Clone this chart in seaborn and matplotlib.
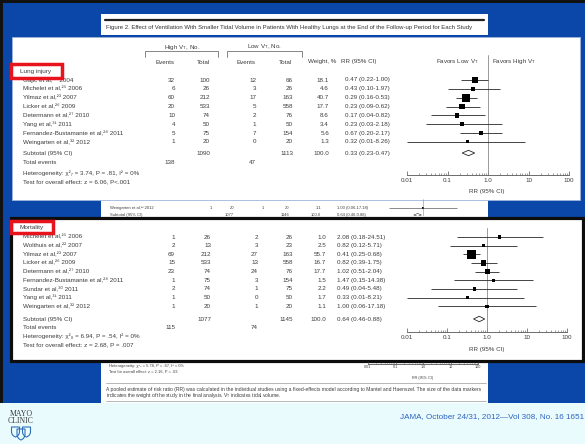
import numpy as np
import matplotlib
matplotlib.use("Agg")
import matplotlib.pyplot as plt
from matplotlib.patches import Rectangle, Polygon, PathPatch
from matplotlib.path import Path
import matplotlib.ticker as mticker
import seaborn as sns

sns.set_style("white")
plt.rcParams["font.family"] = ["Liberation Sans", "DejaVu Sans"]
plt.rcParams["mathtext.fontset"] = "custom"
plt.rcParams["mathtext.rm"] = "Liberation Sans"
plt.rcParams["mathtext.it"] = "Liberation Sans:italic"
plt.rcParams["mathtext.bf"] = "Liberation Sans:bold"

# ---------------- data: lung injury ----------------
li_names = ["Gajic", "Michelet", "Yilmaz", "Licker", "Determann", "Yang",
            "Fernandez-Bustamante", "Weingarten"]
li_refs = [24, 25, 23, 26, 27, 31, 28, 32]
li_years = [2004, 2006, 2007, 2009, 2010, 2011, 2011, 2012]
li_high_events = [32, 6, 60, 20, 10, 4, 5, 1]
li_high_total = [100, 26, 212, 533, 74, 50, 75, 20]
li_low_events = [12, 3, 17, 5, 2, 1, 7, 0]
li_low_total = [66, 26, 163, 558, 76, 50, 154, 20]
li_weight = [18.1, 4.6, 40.7, 17.7, 8.6, 3.4, 5.6, 1.3]
li_rr = [0.47, 0.43, 0.29, 0.23, 0.17, 0.23, 0.67, 0.32]
li_lo = [0.22, 0.10, 0.16, 0.09, 0.04, 0.03, 0.20, 0.01]
li_hi = [1.00, 1.97, 0.53, 0.62, 0.82, 2.18, 2.17, 8.26]
li_sub_totals = [1090, 1113]
li_sub_rr = [0.33, 0.23, 0.47]
li_total_events = [138, 47]
li_het = "Heterogeneity: \u03c7\u00b2\u2087 = 3.74, P = .81, I\u00b2 = 0%"
li_test = "Test for overall effect: z = 6.06, P<.001"

# ---------------- data: mortality ----------------
mo_names = ["Michelet", "Wolthuis", "Yilmaz", "Licker", "Determann",
            "Fernandez-Bustamante", "Sundar", "Yang", "Weingarten"]
mo_refs = [25, 22, 23, 26, 27, 28, 30, 31, 32]
mo_years = [2006, 2007, 2007, 2009, 2010, 2011, 2011, 2011, 2012]
mo_high_events = [1, 2, 69, 15, 23, 1, 2, 1, 1]
mo_high_total = [26, 13, 212, 533, 74, 75, 74, 50, 20]
mo_low_events = [2, 3, 27, 13, 24, 3, 1, 0, 1]
mo_low_total = [26, 23, 163, 558, 76, 154, 75, 50, 20]
mo_weight = [1.0, 2.5, 55.7, 16.7, 17.7, 1.5, 2.2, 1.7, 1.1]
mo_rr = [2.08, 0.82, 0.41, 0.82, 1.02, 1.47, 0.49, 0.33, 1.00]
mo_lo = [0.18, 0.12, 0.25, 0.39, 0.51, 0.15, 0.04, 0.01, 0.06]
mo_hi = [24.51, 5.71, 0.68, 1.75, 2.04, 14.38, 5.48, 8.21, 17.18]
mo_sub_totals = [1077, 1145]
mo_sub_rr = [0.64, 0.46, 0.88]
mo_total_events = [115, 74]
mo_het = "Heterogeneity: \u03c7\u00b2\u2088 = 6.94, P = .54, I\u00b2 = 0%"
mo_test = "Test for overall effect: z = 2.68, P = .007"

# pooled page row visible between the two panels
pg_rr = [1.00]
pg_lo = [0.06]
pg_hi = [17.18]
pg_sub_rr = [0.64, 0.46, 0.88]
pg_het = "Heterogeneity: \u03c7\u00b2\u2088 = 5.78, P = .67, I\u00b2 = 0%"
pg_test = "Test for overall effect: z = 2.16, P = .03"

tick_vals = [0.01, 0.1, 1, 10, 100]
tick_labels = ["0.01", "0.1", "1.0", "10", "100"]

title = ("Figure 2. Effect of Ventilation With Smaller Tidal Volume in Patients "
         "With Healthy Lungs at the End of the Follow-up Period for Each Study")
caption1 = ("A pooled estimate of risk ratio (RR) was calculated in the individual studies "
            "using a fixed-effects model according to Mantel and Haenszel. The size of the data markers")
caption2 = ("indicates the weight of the study in the final analysis. V$_\\mathrm{T}$ "
            "indicates tidal volume.")
footer = "JAMA, October 24/31, 2012\u2014Vol 308, No. 16 1651"

SUP = str.maketrans("0123456789", "\u2070\u00b9\u00b2\u00b3\u2074\u2075\u2076\u2077\u2078\u2079")

# ---------------- styling ----------------
W, H = 585, 444
BLUE = "#0a47a9"
CYAN = "#e9fbfd"
TXT = "#3c3c3c"
RED = "#e8141c"
FS = 4.5

fig = plt.figure(figsize=(W / 100, H / 100), dpi=100)
bg = fig.add_axes([0, 0, 1, 1])
bg.set_xlim(0, W)
bg.set_ylim(H, 0)
bg.axis("off")
bg.set_zorder(0)


def px_axes(x0, y0, x1, y1, z=2):
    a = fig.add_axes([x0 / W, 1 - y1 / H, (x1 - x0) / W, (y1 - y0) / H])
    a.set_zorder(z)
    a.patch.set_alpha(0)
    return a


def rect(x0, y0, x1, y1, **kw):
    bg.add_patch(Rectangle((x0, y0), x1 - x0, y1 - y0, **kw))


def t(x, y, s, size=FS, ha="left", color=TXT, z=5, **kw):
    bg.text(x, y, s, fontsize=size, ha=ha, va="center", color=color, zorder=z, **kw)


# slide background
rect(0, 0, W, 403, fc=BLUE, ec="none", zorder=0)
rect(0, 403, W, H, fc=CYAN, ec="none", zorder=0)
rect(0, 0, W, 3.5, fc="#111111", ec="none", zorder=1)
rect(0, 0, 3, 403, fc="#111111", ec="none", zorder=1)

# journal page strips behind the panels
rect(101, 14, 488, 35.5, fc="white", ec="none", zorder=1)
rect(101, 199, 488, 217, fc="white", ec="none", zorder=1)
rect(101, 361, 488, 403, fc="white", ec="none", zorder=1)
bg.plot([105, 484], [20.5, 20.5], color="#222222", lw=1.6, zorder=2)
t(106, 28, title, size=4.35, color="#333333", z=2)

# glimpse of the page rows between panels
PG = 3.0
t(110, 207.5, "Weingarten et al," + "32".translate(SUP) + " 2012", size=PG, z=2)
for x, s in zip([212, 234, 264, 289, 321], ["1", "20", "1", "20", "1.1"]):
    t(x, 207.5, s, size=PG, ha="right", z=2)
t(337, 207.5, "1.00 (0.06-17.18)", size=PG, z=2)
t(110, 214.5, "Subtotal (95% CI)", size=PG, z=2)
for x, s in zip([234, 289, 321], ["1077", "1146", "100.0"]):
    t(x, 214.5, s, size=PG, ha="right", z=2)
t(337, 214.5, "0.64 (0.46-0.88)", size=PG, z=2)

# page text below the mortality panel
t(109, 366, pg_het, size=2.9, z=2)
t(109, 372, pg_test, size=2.9, z=2)
t(423, 378, "RR (95% CI)", size=2.7, ha="center", z=2)
bg.plot([106, 486], [383, 383], color="#9a9a9a", lw=0.5, zorder=2)
t(106, 389, caption1, size=3.6, z=2)
t(106, 395.5, caption2, size=3.6, z=2)
bg.plot([106, 486], [401, 401], color="#9a9a9a", lw=0.5, zorder=2)

# panel boxes
rect(12, 37, 580, 200, fc="white", ec="#9db4dc", lw=0.6, zorder=3)
rect(10.5, 218, 582.5, 360.5, fc="white", ec="#0d0d0d", lw=2.3, zorder=3)


def study_label(name, ref, year):
    return f"{name} et al,{str(ref).translate(SUP)} {year}"


def table(rows_y, names, refs, years, he, ht, le, lt, wt, rr, lo, hi,
          cols, rr_x):
    c_he, c_ht, c_le, c_lt, c_w = cols
    for i, y in enumerate(rows_y):
        t(23, y, study_label(names[i], refs[i], years[i]))
        t(c_he, y, str(he[i]), ha="right")
        t(c_ht, y, str(ht[i]), ha="right")
        t(c_le, y, str(le[i]), ha="right")
        t(c_lt, y, str(lt[i]), ha="right")
        t(c_w, y, f"{wt[i]:.1f}", ha="right")
        t(rr_x, y, f"{rr[i]:.2f} ({lo[i]:.2f}-{hi[i]:.2f})")


def summary(y_sub, y_tot, y_het, y_test, totals, sub, events, het, test,
            cols, rr_x):
    c_he, c_ht, c_le, c_lt, c_w = cols
    t(23, y_sub, "Subtotal (95% CI)")
    t(c_ht, y_sub, str(totals[0]), ha="right")
    t(c_lt, y_sub, str(totals[1]), ha="right")
    t(c_w, y_sub, "100.0", ha="right")
    t(rr_x, y_sub, f"{sub[0]:.2f} ({sub[1]:.2f}-{sub[2]:.2f})")
    t(23, y_tot, "Total events")
    t(c_he, y_tot, str(events[0]), ha="right")
    t(c_le, y_tot, str(events[1]), ha="right")
    t(23, y_het, het)
    t(23, y_test, test)


def style_log_axis(ax, label_size=FS, pad=2.0, major_len=2.6, minor_len=1.5):
    ax.set_xscale("log")
    ax.set_xlim(0.01, 100)
    for s in ["left", "right", "top"]:
        ax.spines[s].set_visible(False)
    ax.spines["bottom"].set_color("#555555")
    ax.spines["bottom"].set_linewidth(0.6)
    ax.set_yticks([])
    ax.xaxis.set_major_locator(mticker.FixedLocator(tick_vals))
    ax.xaxis.set_major_formatter(mticker.FixedFormatter(tick_labels))
    ax.xaxis.set_minor_locator(mticker.LogLocator(base=10, subs=np.arange(2, 10)))
    ax.xaxis.set_minor_formatter(mticker.NullFormatter())
    ax.tick_params(axis="x", which="major", direction="in", length=major_len,
                   width=0.5, color="#555555", labelsize=label_size,
                   labelcolor=TXT, pad=pad, bottom=True)
    ax.tick_params(axis="x", which="minor", direction="in", length=minor_len,
                   width=0.4, color="#555555", bottom=True)
    ax.set_xlabel("")
    ax.set_ylabel("")
    ax.grid(False)


def forest(ax, rows_y, rr, lo, hi, wt, sub, sub_y, y_top, y_bot):
    style_log_axis(ax)
    ax.axvline(1, color="#8a8a8a", lw=0.6, zorder=1)
    ax.hlines(rows_y, lo, hi, color="#262626", lw=0.6, zorder=2)
    sns.scatterplot(x=rr, y=rows_y, size=wt, sizes=(4, 74), size_norm=(0, 100),
                    marker="s", color="black", linewidth=0, legend=False,
                    ax=ax, zorder=3)
    d = 2.7
    ax.add_patch(Polygon([(sub[1], sub_y), (sub[0], sub_y - d),
                          (sub[2], sub_y), (sub[0], sub_y + d)],
                         closed=True, fc="white", ec="#262626", lw=0.6, zorder=3))
    ax.set_ylim(y_bot, y_top)
    ax.set_xlim(0.01, 100)
    ax.set_xlabel("")
    ax.set_ylabel("")


# ---------------- lung injury panel ----------------
li_cols = [175, 210, 256, 293, 329]
li_rows = 80 + 8.85 * np.arange(len(li_names))
t(182, 47, r"High V$_\mathrm{T}$, No.", ha="center")
t(264, 47, r"Low V$_\mathrm{T}$, No.", ha="center")
for x0, x1 in [(145, 218), (227, 302)]:
    bg.plot([x0, x0, x1, x1], [57, 51.5, 51.5, 57], color="#555555", lw=0.5, zorder=5)
for x, s in zip([165, 203, 246, 285], ["Events", "Total", "Events", "Total"]):
    t(x, 62, s, ha="center")
t(322, 61.5, "Weight, %", ha="center")
t(359, 61.5, "RR (95% CI)", ha="center")
t(457, 61.5, r"Favors Low V$_\mathrm{T}$", ha="center")
t(514, 61.5, r"Favors High V$_\mathrm{T}$", ha="center")

table(li_rows, li_names, li_refs, li_years, li_high_events, li_high_total,
      li_low_events, li_low_total, li_weight, li_rr, li_lo, li_hi, li_cols, 345)
summary(153, 162, 173, 181.5, li_sub_totals, li_sub_rr, li_total_events,
        li_het, li_test, li_cols, 345)
t(36, 71, "Lung injury", size=FS + 0.1, ha="center")
rect(10.5, 64, 61.5, 78, fc="none", ec=RED, lw=2.5, zorder=6)
t(487, 191, "RR (95% CI)", ha="center")

ax_li = px_axes(407, 55, 569, 175)
forest(ax_li, li_rows, li_rr, li_lo, li_hi, li_weight, li_sub_rr, 153, 55, 175)

# ---------------- mortality panel ----------------
mo_cols = [175, 211, 258, 293, 326]
mo_rows = 237 + 8.65 * np.arange(len(mo_names))
table(mo_rows, mo_names, mo_refs, mo_years, mo_high_events, mo_high_total,
      mo_low_events, mo_low_total, mo_weight, mo_rr, mo_lo, mo_hi, mo_cols, 337)
summary(319, 327, 336.5, 345, mo_sub_totals, mo_sub_rr, mo_total_events,
        mo_het, mo_test, mo_cols, 337)
t(31.5, 227.5, "Mortality", size=FS + 0.1, ha="center")
rect(10.5, 221, 53, 233, fc="none", ec=RED, lw=2.5, zorder=6)
t(487, 349.5, "RR (95% CI)", ha="center")

ax_mo = px_axes(407, 228, 567, 332)
forest(ax_mo, mo_rows, mo_rr, mo_lo, mo_hi, mo_weight, mo_sub_rr, 319, 228, 332)

# ---------------- small page plots ----------------
ax_pg = px_axes(368, 199.5, 478, 216.5, z=1)
ax_pg.set_xscale("log")
ax_pg.set_xlim(0.01, 100)
ax_pg.axis("off")
ax_pg.axvline(1, color="#8a8a8a", lw=0.4)
ax_pg.hlines([207.5], pg_lo, pg_hi, color="#333333", lw=0.4)
sns.scatterplot(x=pg_rr, y=[207.5], marker="s", s=2, color="black",
                linewidth=0, legend=False, ax=ax_pg)
ax_pg.add_patch(Polygon([(pg_sub_rr[1], 215), (pg_sub_rr[0], 213.5),
                         (pg_sub_rr[2], 215), (pg_sub_rr[0], 216.5)],
                        closed=True, fc="white", ec="#333333", lw=0.4))
ax_pg.set_ylim(216.5, 199.5)
ax_pg.set_xlim(0.01, 100)

ax_pg2 = px_axes(368, 361, 478, 363.5, z=1)
style_log_axis(ax_pg2, label_size=2.7, pad=1.2, major_len=1.6, minor_len=0.9)

# ---------------- footer ----------------
t(400, 416.5, footer, size=5.9, color="#2d63c0")
t(21, 413.5, "MAYO", size=5.6, ha="center", color="#3a3a3a", family="Liberation Serif")
t(21, 420.5, "CLINIC", size=5.6, ha="center", color="#3a3a3a", family="Liberation Serif")


def shield(cx, top, w, h):
    x0, x1 = cx - w / 2, cx + w / 2
    verts = [(x0, top), (x1, top), (x1, top + h * 0.45),
             (x1, top + h * 0.85), (cx, top + h),
             (x0, top + h * 0.85), (x0, top + h * 0.45), (x0, top)]
    codes = [Path.MOVETO, Path.LINETO, Path.LINETO,
             Path.CURVE3, Path.CURVE3, Path.CURVE3, Path.CURVE3, Path.CLOSEPOLY]
    bg.add_patch(PathPatch(Path(verts, codes), fc="none", ec="#2f6fb8",
                           lw=0.8, zorder=5))


shield(15.5, 427, 8, 10)
shield(26.5, 427, 8, 10)
shield(21, 429, 8, 11)

fig.savefig("out.png", dpi=100)
